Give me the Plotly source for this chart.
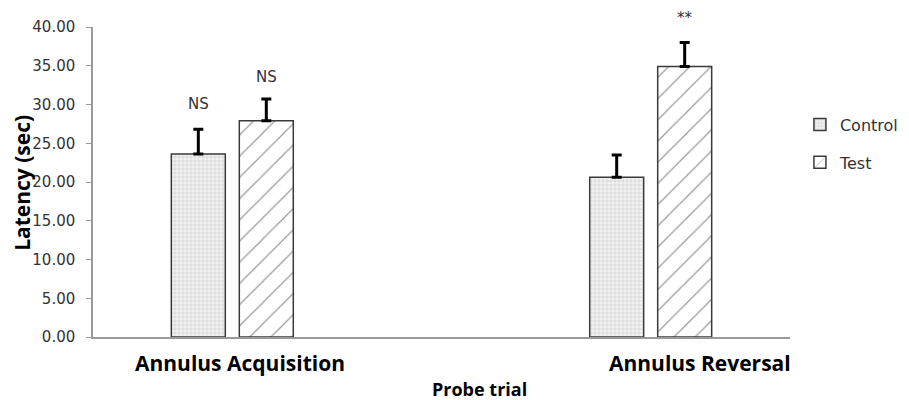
import plotly.graph_objects as go

categories = ["Annulus Acquisition", "Annulus Reversal"]
control_vals = [23.6, 20.6]
control_err = [3.2, 2.9]
test_vals = [27.9, 34.9]
test_err = [2.8, 3.1]
sig_control = ["NS", ""]
sig_test = ["NS", "**"]
y_ticks = [0, 5, 10, 15, 20, 25, 30, 35, 40]
Y_MAX = 40

TICKFONT = "DejaVu Sans"
BOLDFONT = "Open Sans"
xpos = list(range(len(categories)))

fig = go.Figure()
fig.add_trace(go.Bar(
    name="Control", x=xpos, y=control_vals, legend="legend",
    marker=dict(color="white", line=dict(color="#3a3a3a", width=1.5),
                pattern=dict(shape="+", size=4, solidity=0.25, fgcolor="#9a9a9a", bgcolor="#f2f2f2")),
    error_y=dict(type="data", array=control_err, arrayminus=[0]*len(control_err), symmetric=False,
                 color="black", thickness=3, width=5),
))
fig.add_trace(go.Bar(
    name="Test", x=xpos, y=test_vals, legend="legend2",
    marker=dict(color="white", line=dict(color="#3a3a3a", width=1.5),
                pattern=dict(shape="/", size=15, solidity=0.08, fgcolor="#333333", bgcolor="white")),
    error_y=dict(type="data", array=test_err, arrayminus=[0]*len(test_err), symmetric=False,
                 color="black", thickness=3, width=5),
))

off = 0.0813
for i in xpos:
    if sig_control[i]:
        fig.add_annotation(x=i - off, y=(control_vals[i] + control_err[i] + 3.3) / Y_MAX, yref="paper",
                           text=sig_control[i], showarrow=False, xanchor="center", yanchor="middle",
                           font=dict(family=TICKFONT, size=15, color="#333"))
    if sig_test[i]:
        extra = 2.8 if i == 0 else 3.2
        fig.add_annotation(x=i + off, y=(test_vals[i] + test_err[i] + extra) / Y_MAX, yref="paper",
                           text=sig_test[i], showarrow=False, xanchor="center", yanchor="middle",
                           font=dict(family=TICKFONT, size=15, color="#333"))

# category labels
label_x = [0.211, 0.871]
for i, c in enumerate(categories):
    fig.add_annotation(x=label_x[i], y=-0.084, xref="paper", yref="paper", text="<b>%s</b>" % c,
                       showarrow=False, xanchor="center", yanchor="middle",
                       font=dict(family=BOLDFONT, size=21, color="black"))
fig.add_annotation(x=0.555, y=-0.167, xref="paper", yref="paper", text="<b>Probe trial</b>",
                   showarrow=False, xanchor="center", yanchor="middle",
                   font=dict(family=BOLDFONT, size=18, color="black"))
fig.add_annotation(x=-0.102, y=0.497, xref="paper", yref="paper", text="<b>Latency (sec)</b>",
                   textangle=-90, showarrow=False, xanchor="center", yanchor="middle",
                   font=dict(family=BOLDFONT, size=21, color="black"))

fig.update_layout(
    width=909, height=400,
    margin=dict(l=93, r=119, t=27, b=63, autoexpand=False),
    plot_bgcolor="white", paper_bgcolor="white",
    barmode="group", bargap=0.675, bargroupgap=0.206,
    showlegend=True,
    legend=dict(xref="container", x=0.88, y=0.685, xanchor="left", yanchor="middle",
                font=dict(family=TICKFONT, size=16, color="#333"), bgcolor="rgba(0,0,0,0)"),
    legend2=dict(xref="container", x=0.88, y=0.563, xanchor="left", yanchor="middle",
                 font=dict(family=TICKFONT, size=16, color="#333"), bgcolor="rgba(0,0,0,0)"),
    xaxis=dict(range=[-0.333, 1.333], showticklabels=False, ticks="", showline=True, linecolor="#999",
               linewidth=1.5, showgrid=False, zeroline=False),
    yaxis=dict(range=[0, Y_MAX], tickvals=y_ticks, tickformat=".2f", ticks="outside", ticklen=5,
               tickcolor="#999", showline=True, linecolor="#999", linewidth=1.5, showgrid=False,
               zeroline=False, ticklabelstandoff=8, tickfont=dict(family=TICKFONT, size=15, color="#333")),
)

fig.write_html("out.html", config={"displayModeBar": False},
               post_script="document.body.style.margin='0';document.body.style.overflow='hidden';")
